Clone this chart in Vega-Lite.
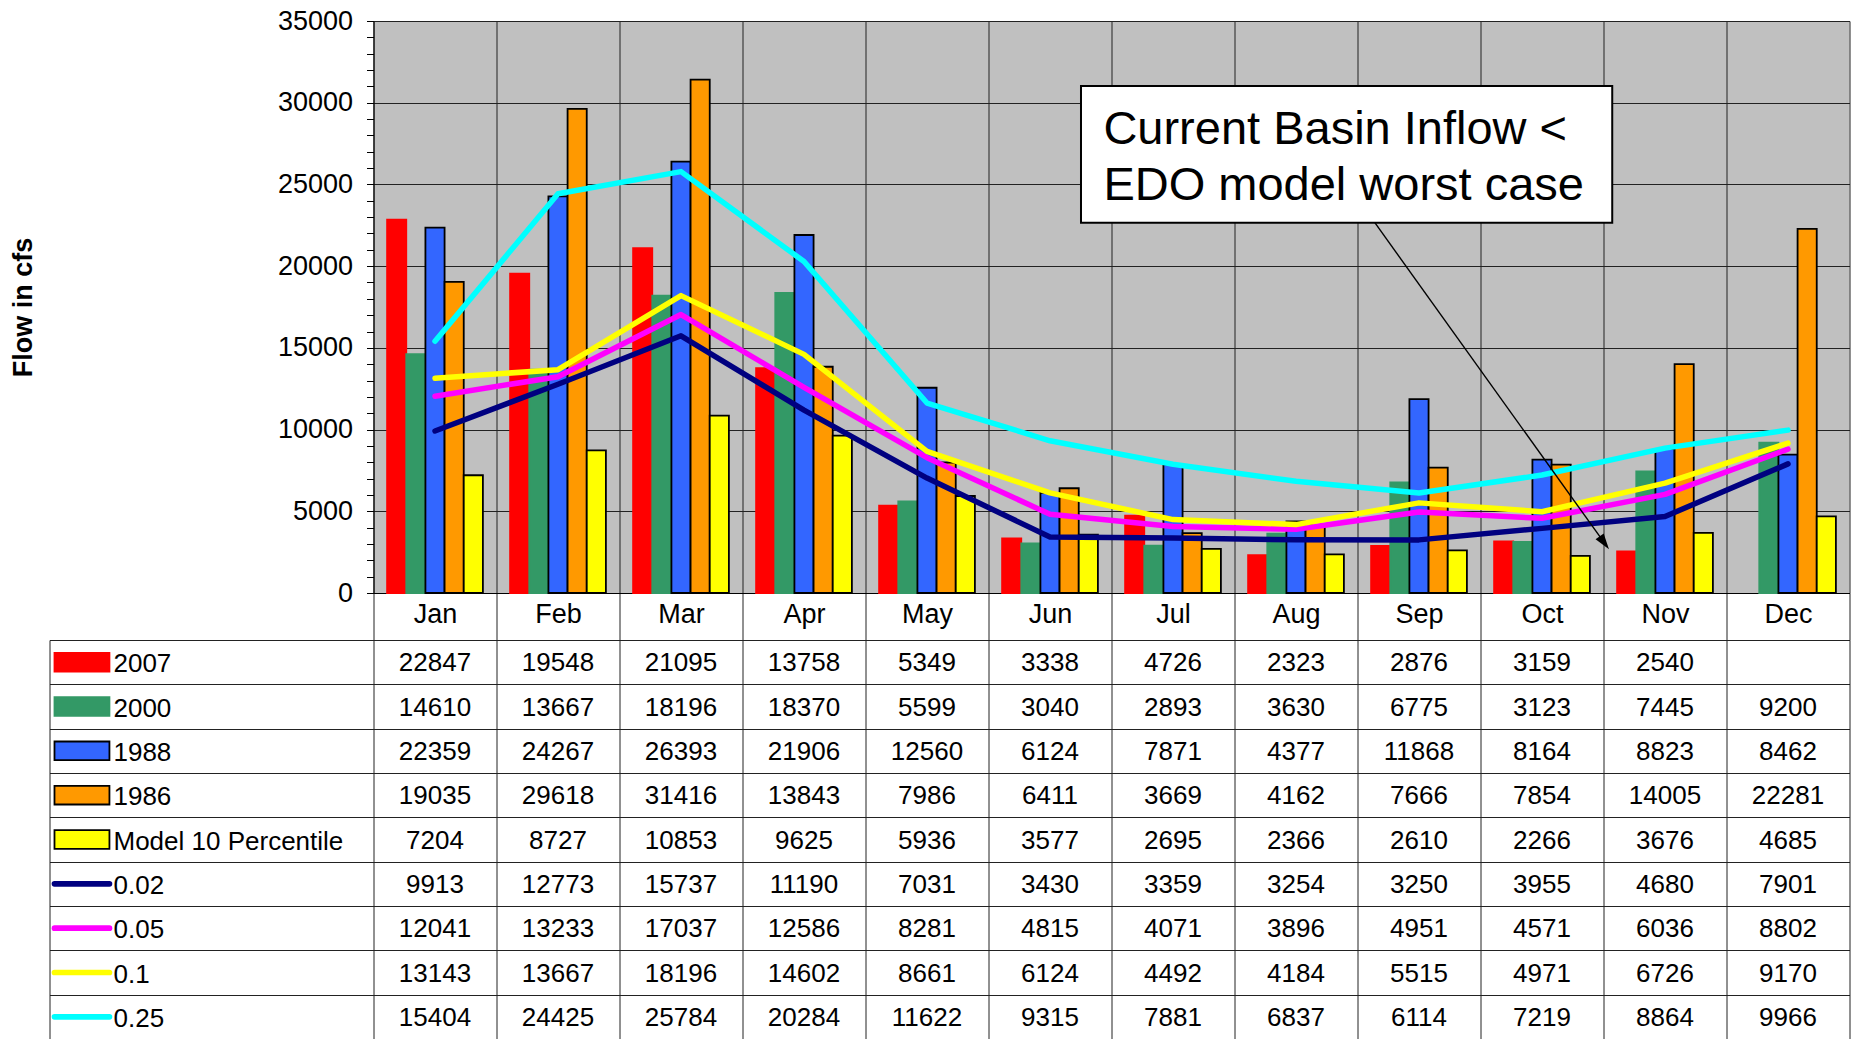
{
  "$schema": "https://vega.github.io/schema/vega-lite/v6.json",
  "padding": {"left": 9.5, "top": 7, "right": 0, "bottom": 0},
  "background": "white",
  "bounds": "flush",
  "columns": 2,
  "spacing": {"row": 47, "column": 0},
  "config": {
    "font": "Liberation Sans",
    "view": {"stroke": null},
    "axis": {"domainColor": "#000", "tickColor": "#000", "gridColor": "#222", "labelColor": "#000", "titleColor": "#000"}
  },
  "datasets": {
    "series": [{"s": "2007"}, {"s": "2000"}, {"s": "1988"}, {"s": "1986"}, {"s": "Model 10 Percentile"}, {"s": "0.02"}, {"s": "0.05"}, {"s": "0.1"}, {"s": "0.25"}],
    "flows": [
      {"m": "Jan", "s": "2007", "v": 22847}, {"m": "Feb", "s": "2007", "v": 19548}, {"m": "Mar", "s": "2007", "v": 21095}, {"m": "Apr", "s": "2007", "v": 13758}, {"m": "May", "s": "2007", "v": 5349}, {"m": "Jun", "s": "2007", "v": 3338}, {"m": "Jul", "s": "2007", "v": 4726}, {"m": "Aug", "s": "2007", "v": 2323}, {"m": "Sep", "s": "2007", "v": 2876}, {"m": "Oct", "s": "2007", "v": 3159}, {"m": "Nov", "s": "2007", "v": 2540},
      {"m": "Jan", "s": "2000", "v": 14610}, {"m": "Feb", "s": "2000", "v": 13667}, {"m": "Mar", "s": "2000", "v": 18196}, {"m": "Apr", "s": "2000", "v": 18370}, {"m": "May", "s": "2000", "v": 5599}, {"m": "Jun", "s": "2000", "v": 3040}, {"m": "Jul", "s": "2000", "v": 2893}, {"m": "Aug", "s": "2000", "v": 3630}, {"m": "Sep", "s": "2000", "v": 6775}, {"m": "Oct", "s": "2000", "v": 3123}, {"m": "Nov", "s": "2000", "v": 7445}, {"m": "Dec", "s": "2000", "v": 9200},
      {"m": "Jan", "s": "1988", "v": 22359}, {"m": "Feb", "s": "1988", "v": 24267}, {"m": "Mar", "s": "1988", "v": 26393}, {"m": "Apr", "s": "1988", "v": 21906}, {"m": "May", "s": "1988", "v": 12560}, {"m": "Jun", "s": "1988", "v": 6124}, {"m": "Jul", "s": "1988", "v": 7871}, {"m": "Aug", "s": "1988", "v": 4377}, {"m": "Sep", "s": "1988", "v": 11868}, {"m": "Oct", "s": "1988", "v": 8164}, {"m": "Nov", "s": "1988", "v": 8823}, {"m": "Dec", "s": "1988", "v": 8462},
      {"m": "Jan", "s": "1986", "v": 19035}, {"m": "Feb", "s": "1986", "v": 29618}, {"m": "Mar", "s": "1986", "v": 31416}, {"m": "Apr", "s": "1986", "v": 13843}, {"m": "May", "s": "1986", "v": 7986}, {"m": "Jun", "s": "1986", "v": 6411}, {"m": "Jul", "s": "1986", "v": 3669}, {"m": "Aug", "s": "1986", "v": 4162}, {"m": "Sep", "s": "1986", "v": 7666}, {"m": "Oct", "s": "1986", "v": 7854}, {"m": "Nov", "s": "1986", "v": 14005}, {"m": "Dec", "s": "1986", "v": 22281},
      {"m": "Jan", "s": "Model 10 Percentile", "v": 7204}, {"m": "Feb", "s": "Model 10 Percentile", "v": 8727}, {"m": "Mar", "s": "Model 10 Percentile", "v": 10853}, {"m": "Apr", "s": "Model 10 Percentile", "v": 9625}, {"m": "May", "s": "Model 10 Percentile", "v": 5936}, {"m": "Jun", "s": "Model 10 Percentile", "v": 3577}, {"m": "Jul", "s": "Model 10 Percentile", "v": 2695}, {"m": "Aug", "s": "Model 10 Percentile", "v": 2366}, {"m": "Sep", "s": "Model 10 Percentile", "v": 2610}, {"m": "Oct", "s": "Model 10 Percentile", "v": 2266}, {"m": "Nov", "s": "Model 10 Percentile", "v": 3676}, {"m": "Dec", "s": "Model 10 Percentile", "v": 4685},
      {"m": "Jan", "s": "0.02", "v": 9913}, {"m": "Feb", "s": "0.02", "v": 12773}, {"m": "Mar", "s": "0.02", "v": 15737}, {"m": "Apr", "s": "0.02", "v": 11190}, {"m": "May", "s": "0.02", "v": 7031}, {"m": "Jun", "s": "0.02", "v": 3430}, {"m": "Jul", "s": "0.02", "v": 3359}, {"m": "Aug", "s": "0.02", "v": 3254}, {"m": "Sep", "s": "0.02", "v": 3250}, {"m": "Oct", "s": "0.02", "v": 3955}, {"m": "Nov", "s": "0.02", "v": 4680}, {"m": "Dec", "s": "0.02", "v": 7901},
      {"m": "Jan", "s": "0.05", "v": 12041}, {"m": "Feb", "s": "0.05", "v": 13233}, {"m": "Mar", "s": "0.05", "v": 17037}, {"m": "Apr", "s": "0.05", "v": 12586}, {"m": "May", "s": "0.05", "v": 8281}, {"m": "Jun", "s": "0.05", "v": 4815}, {"m": "Jul", "s": "0.05", "v": 4071}, {"m": "Aug", "s": "0.05", "v": 3896}, {"m": "Sep", "s": "0.05", "v": 4951}, {"m": "Oct", "s": "0.05", "v": 4571}, {"m": "Nov", "s": "0.05", "v": 6036}, {"m": "Dec", "s": "0.05", "v": 8802},
      {"m": "Jan", "s": "0.1", "v": 13143}, {"m": "Feb", "s": "0.1", "v": 13667}, {"m": "Mar", "s": "0.1", "v": 18196}, {"m": "Apr", "s": "0.1", "v": 14602}, {"m": "May", "s": "0.1", "v": 8661}, {"m": "Jun", "s": "0.1", "v": 6124}, {"m": "Jul", "s": "0.1", "v": 4492}, {"m": "Aug", "s": "0.1", "v": 4184}, {"m": "Sep", "s": "0.1", "v": 5515}, {"m": "Oct", "s": "0.1", "v": 4971}, {"m": "Nov", "s": "0.1", "v": 6726}, {"m": "Dec", "s": "0.1", "v": 9170},
      {"m": "Jan", "s": "0.25", "v": 15404}, {"m": "Feb", "s": "0.25", "v": 24425}, {"m": "Mar", "s": "0.25", "v": 25784}, {"m": "Apr", "s": "0.25", "v": 20284}, {"m": "May", "s": "0.25", "v": 11622}, {"m": "Jun", "s": "0.25", "v": 9315}, {"m": "Jul", "s": "0.25", "v": 7881}, {"m": "Aug", "s": "0.25", "v": 6837}, {"m": "Sep", "s": "0.25", "v": 6114}, {"m": "Oct", "s": "0.25", "v": 7219}, {"m": "Nov", "s": "0.25", "v": 8864}, {"m": "Dec", "s": "0.25", "v": 9966}
    ]
  },
  "concat": [
    {
      "width": 324, "height": 572,
      "data": {"values": []},
      "mark": "rect",
      "encoding": {}
    },
    {
      "width": 1476, "height": 572,
      "view": {"fill": "#C0C0C0"},
      "data": {"name": "flows"},
      "resolve": {"scale": {"x": "independent", "y": "independent"}},
      "layer": [
        {
          "layer": [
            {
              "transform": [{"filter": {"field": "s", "oneOf": ["2007", "2000", "1988", "1986", "Model 10 Percentile"]}}],
              "mark": {"type": "bar", "strokeWidth": 1.8},
              "encoding": {
                "x": {"field": "m", "type": "nominal", "sort": ["Jan", "Feb", "Mar", "Apr", "May", "Jun", "Jul", "Aug", "Sep", "Oct", "Nov", "Dec"],
                  "scale": {"paddingInner": 0, "paddingOuter": 0},
                  "axis": {"title": null, "orient": "bottom", "tickBand": "extent", "grid": true, "gridColor": "#222", "ticks": true, "tickSize": 47, "tickColor": "#222", "labelFontSize": 27, "labelPadding": -26, "labelBaseline": "middle", "labelAngle": 0, "domainColor": "#000"}},
                "xOffset": {"field": "s", "type": "nominal", "sort": ["2007", "2000", "1988", "1986", "Model 10 Percentile"], "scale": {"paddingInner": 0, "paddingOuter": 0.71}},
                "y": {"field": "v", "type": "quantitative", "scale": {"domain": [0, 35000], "nice": false},
                  "axis": {"title": "Flow in cfs", "values": [0, 1000, 2000, 3000, 4000, 5000, 6000, 7000, 8000, 9000, 10000, 11000, 12000, 13000, 14000, 15000, 16000, 17000, 18000, 19000, 20000, 21000, 22000, 23000, 24000, 25000, 26000, 27000, 28000, 29000, 30000, 31000, 32000, 33000, 34000, 35000],
                    "tickCount": 100,
                    "format": "d", "labelExpr": "datum.value % 5000 === 0 ? datum.label : ''", "labelFontSize": 27, "labelPadding": 14, "labelOverlap": false, "labelFlush": false, "tickSize": 7,
                    "grid": true, "gridColor": {"condition": {"test": "datum.value % 5000 === 0", "value": "#222"}, "value": "transparent"},
                    "titleFontSize": 27, "titleFontWeight": "bold", "titleX": -350, "titleY": 286, "titleAngle": 270, "titleBaseline": "middle", "titleAlign": "center"}},
                "color": {"field": "s", "type": "nominal", "scale": {"domain": ["2007", "2000", "1988", "1986", "Model 10 Percentile", "0.02", "0.05", "0.1", "0.25"], "range": ["#FF0000", "#339966", "#3366FF", "#FF9900", "#FFFF00", "#000080", "#FF00FF", "#FFFF00", "#00FFFF"]}, "legend": null},
                "stroke": {"field": "s", "type": "nominal", "scale": {"domain": ["2007", "2000", "1988", "1986", "Model 10 Percentile"], "range": ["#FF0000", "#339966", "#000000", "#000000", "#000000"]}, "legend": null}
              }
            },
            {
              "transform": [{"filter": {"field": "s", "oneOf": ["0.02", "0.05", "0.1", "0.25"]}}],
              "mark": {"type": "line", "strokeWidth": 5.5, "strokeCap": "round", "strokeJoin": "round"},
              "encoding": {
                "x": {"field": "m", "type": "nominal", "sort": ["Jan", "Feb", "Mar", "Apr", "May", "Jun", "Jul", "Aug", "Sep", "Oct", "Nov", "Dec"]},
                "y": {"field": "v", "type": "quantitative"},
                "color": {"field": "s", "type": "nominal", "scale": {"domain": ["2007", "2000", "1988", "1986", "Model 10 Percentile", "0.02", "0.05", "0.1", "0.25"], "range": ["#FF0000", "#339966", "#3366FF", "#FF9900", "#FFFF00", "#000080", "#FF00FF", "#FFFF00", "#00FFFF"]}, "legend": null}
              }
            }
          ]
        },
        {
          "data": {"values": [{"note": "Current Basin Inflow <\nEDO model worst case"}]},
          "layer": [
            {
              "mark": {"type": "rect", "fill": "white", "stroke": "#000", "strokeWidth": 2},
              "encoding": {
                "x": {"datum": 5.752, "type": "quantitative", "scale": {"domain": [0, 12], "nice": false, "zero": false}, "axis": null},
                "x2": {"datum": 10.071},
                "y": {"datum": 31022, "type": "quantitative", "scale": {"domain": [0, 35000], "nice": false, "zero": false}, "axis": null},
                "y2": {"datum": 22658}
              }
            },
            {
              "mark": {"type": "text", "align": "left", "baseline": "alphabetic", "fontSize": 47, "lineBreak": "\n", "lineHeight": 56.3, "color": "#000"},
              "encoding": {
                "x": {"datum": 5.934, "type": "quantitative", "axis": null},
                "y": {"datum": 27492, "type": "quantitative", "axis": null},
                "text": {"field": "note"}
              }
            },
            {
              "mark": {"type": "rule", "strokeWidth": 1.4, "color": "#000"},
              "encoding": {
                "x": {"datum": 8.141, "type": "quantitative", "axis": null},
                "y": {"datum": 22658, "type": "quantitative", "axis": null},
                "x2": {"datum": 9.997},
                "y2": {"datum": 3170}
              }
            },
            {
              "mark": {"type": "point", "shape": "M0,-1L0.5,0.6L-0.5,0.6Z", "filled": true, "color": "#000", "size": 400, "angle": 144.3, "opacity": 1},
              "encoding": {
                "x": {"datum": 9.997, "type": "quantitative", "axis": null},
                "y": {"datum": 3170, "type": "quantitative", "axis": null}
              }
            }
          ]
        }
      ]
    },
    {
      "width": 324, "height": 399,
      "data": {"name": "series"},
      "layer": [
        {
          "transform": [{"filter": {"field": "s", "oneOf": ["2007", "2000", "1988", "1986", "Model 10 Percentile"]}}],
          "mark": {"type": "bar", "height": {"band": 0.42}, "strokeWidth": 1.8},
          "encoding": {
            "x": {"datum": 0.0154, "type": "quantitative", "scale": {"domain": [0, 1], "nice": false, "zero": false}, "axis": null},
            "x2": {"datum": 0.185},
            "y": {"field": "s", "type": "nominal", "sort": ["2007", "2000", "1988", "1986", "Model 10 Percentile", "0.02", "0.05", "0.1", "0.25"], "scale": {"paddingInner": 0, "paddingOuter": 0},
              "axis": {"title": null, "labels": false, "ticks": false, "domain": true, "domainColor": "#222", "grid": true, "gridColor": "#222", "tickBand": "extent"}},
            "color": {"field": "s", "type": "nominal", "scale": {"domain": ["2007", "2000", "1988", "1986", "Model 10 Percentile", "0.02", "0.05", "0.1", "0.25"], "range": ["#FF0000", "#339966", "#3366FF", "#FF9900", "#FFFF00", "#000080", "#FF00FF", "#FFFF00", "#00FFFF"]}, "legend": null},
            "stroke": {"field": "s", "type": "nominal", "scale": {"domain": ["2007", "2000", "1988", "1986", "Model 10 Percentile"], "range": ["#FF0000", "#339966", "#000000", "#000000", "#000000"]}, "legend": null}
          }
        },
        {
          "transform": [{"filter": {"field": "s", "oneOf": ["0.02", "0.05", "0.1", "0.25"]}}],
          "mark": {"type": "rule", "strokeWidth": 5.7, "strokeCap": "round"},
          "encoding": {
            "x": {"datum": 0.0154, "type": "quantitative"},
            "x2": {"datum": 0.185},
            "y": {"field": "s", "type": "nominal", "sort": ["2007", "2000", "1988", "1986", "Model 10 Percentile", "0.02", "0.05", "0.1", "0.25"]},
            "color": {"field": "s", "type": "nominal", "scale": {"domain": ["2007", "2000", "1988", "1986", "Model 10 Percentile", "0.02", "0.05", "0.1", "0.25"], "range": ["#FF0000", "#339966", "#3366FF", "#FF9900", "#FFFF00", "#000080", "#FF00FF", "#FFFF00", "#00FFFF"]}, "legend": null}
          }
        },
        {
          "mark": {"type": "text", "align": "left", "baseline": "middle", "fontSize": 26, "dy": 2, "color": "#000"},
          "encoding": {
            "x": {"datum": 0.1975, "type": "quantitative"},
            "y": {"field": "s", "type": "nominal", "sort": ["2007", "2000", "1988", "1986", "Model 10 Percentile", "0.02", "0.05", "0.1", "0.25"]},
            "text": {"field": "s"}
          }
        }
      ]
    },
    {
      "width": 1476, "height": 399,
      "data": {"name": "flows"},
      "mark": {"type": "text", "fontSize": 26, "baseline": "middle", "dy": 1, "color": "#000"},
      "encoding": {
        "x": {"field": "m", "type": "nominal", "sort": ["Jan", "Feb", "Mar", "Apr", "May", "Jun", "Jul", "Aug", "Sep", "Oct", "Nov", "Dec"], "scale": {"paddingInner": 0, "paddingOuter": 0},
          "axis": {"title": null, "labels": false, "ticks": false, "domain": false, "grid": true, "tickBand": "extent", "gridColor": "#222"}},
        "y": {"field": "s", "type": "nominal", "sort": ["2007", "2000", "1988", "1986", "Model 10 Percentile", "0.02", "0.05", "0.1", "0.25"], "scale": {"paddingInner": 0, "paddingOuter": 0},
          "axis": {"title": null, "labels": false, "ticks": false, "domain": false, "grid": true, "tickBand": "extent", "gridColor": "#222"}},
        "text": {"field": "v", "type": "quantitative", "format": "d"}
      }
    }
  ]
}
